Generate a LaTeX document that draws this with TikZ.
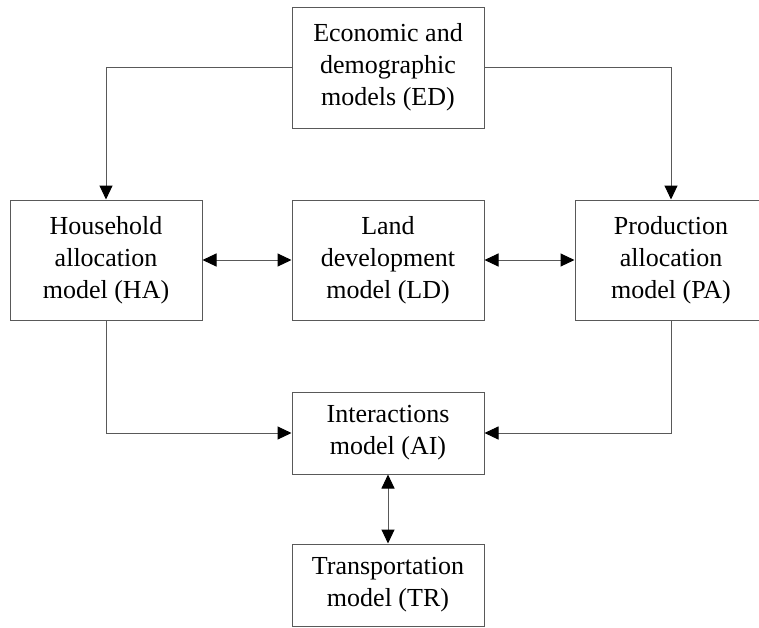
\documentclass[tikz,border=0pt]{standalone}
\usepackage{fontspec}
\setmainfont{Liberation Serif}
\usetikzlibrary{arrows.meta}
\begin{document}
\begin{tikzpicture}[x=1pt,y=-1pt,
  box/.style={draw=black!65, line width=1pt, fill=white, inner sep=0pt,
    minimum width=192pt, align=center, font=\fontsize{26}{32}\selectfont},
  tall/.style={box, minimum height=120pt},
  short/.style={box, minimum height=82pt},
  conn/.style={draw=black!65, line width=1pt},
  tip/.style={-{Triangle[length=14pt,width=13pt,color=black]}},
  both/.style={{Triangle[length=14pt,width=13pt,color=black]}-{Triangle[length=14pt,width=13pt,color=black]}}
]
\useasboundingbox (0,0) rectangle (759,627);
\node[tall, minimum height=121pt] (ED) at (388,67.5) {Economic and\\demographic\\models (ED)};
\node[tall] (HA) at (106,260) {Household\\allocation\\model (HA)};
\node[tall] (LD) at (388,260) {Land\\development\\model (LD)};
\node[tall] (PA) at (671,260) {Production\\allocation\\model (PA)};
\node[short] (AI) at (388,433) {Interactions\\model (AI)};
\node[short] (TR) at (388,585) {Transportation\\model (TR)};
\draw[conn, tip] (ED.west) -| (HA.north);
\draw[conn, tip] (ED.east) -| (PA.north);
\draw[conn, tip] (HA.south) |- (AI.west);
\draw[conn, tip] (PA.south) |- (AI.east);
\draw[conn, both] (HA.east) -- (LD.west);
\draw[conn, both] (LD.east) -- (PA.west);
\draw[conn, both] (AI.south) -- (TR.north);
\end{tikzpicture}
\end{document}
